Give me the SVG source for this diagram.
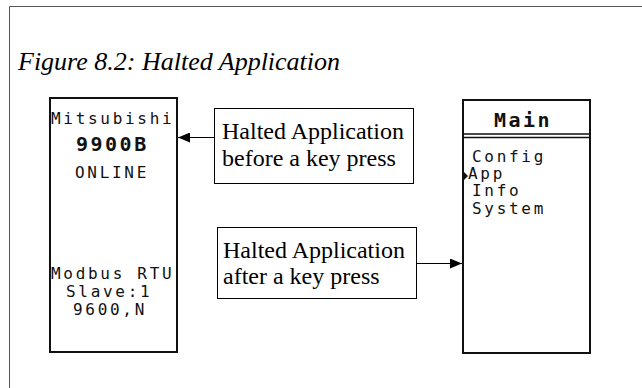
<svg xmlns="http://www.w3.org/2000/svg" width="642" height="388" viewBox="0 0 642 388">
  <defs>
    <marker id="arr" viewBox="0 0 12 10" refX="12" refY="5" markerWidth="12" markerHeight="10" markerUnits="userSpaceOnUse" orient="auto">
      <path d="M0,0 L12,5 L0,10 Z" fill="#000"/>
    </marker>
    <style>
      .frame { fill: none; stroke: #555; stroke-width: 1; }
      .screen { fill: #fff; stroke: #111; stroke-width: 2; }
      .lbl { fill: #fff; stroke: #000; stroke-width: 1; }
      .ltxt { font-family: "Liberation Serif", "Times New Roman", serif; font-size: 24px; fill: #000; }
      .title { font-family: "Liberation Serif", "Times New Roman", serif; font-style: italic; font-size: 26px; fill: #000; }
      .lcd { font-family: "DejaVu Sans Mono", "Liberation Mono", monospace; font-size: 16px; letter-spacing: 2.7px; fill: #111; }
      .lcdb { font-family: "DejaVu Sans Mono", "Liberation Mono", monospace; font-size: 20px; font-weight: bold; letter-spacing: 2.5px; fill: #111; }
      .conn { stroke: #000; stroke-width: 1; fill: none; }
    </style>
  </defs>
  <rect width="642" height="388" fill="#fff"/>
  <path class="frame" d="M9.5,388 L9.5,6.5 L642,6.5"/>
  <text class="title" x="18" y="70">Figure 8.2: Halted Application</text>

  <g id="screen-halted">
    <rect class="screen" x="50" y="98" width="127" height="254"/>
    <text class="lcd" x="51" y="124">Mitsubishi</text>
    <text class="lcdb" x="76" y="151">9900B</text>
    <text class="lcd" x="75" y="178">ONLINE</text>
    <text class="lcd" x="51" y="279">Modbus RTU</text>
    <text class="lcd" x="66" y="297">Slave:1</text>
    <text class="lcd" x="73" y="315">9600,N</text>
  </g>

  <g id="screen-main">
    <rect class="screen" x="463" y="100" width="127" height="253"/>
    <text class="lcdb" x="494" y="127">Main</text>
    <line x1="463" y1="134" x2="590" y2="134" stroke="#111" stroke-width="1.5"/>
    <line x1="463" y1="137.5" x2="590" y2="137.5" stroke="#111" stroke-width="1.5"/>
    <text class="lcd" x="472" y="162">Config</text>
    <path d="M464,172 L468,176 L464,180 Z" fill="#111"/>
    <text class="lcd" x="468" y="179">App</text>
    <text class="lcd" x="472" y="196">Info</text>
    <text class="lcd" x="472" y="214">System</text>
  </g>

  <g id="label-before">
    <rect class="lbl" x="214.5" y="108.5" width="199" height="75"/>
    <text class="ltxt" x="222" y="139">Halted Application</text>
    <text class="ltxt" x="222" y="166">before a key press</text>
  </g>

  <g id="label-after">
    <rect class="lbl" x="217.5" y="227.5" width="199" height="71"/>
    <text class="ltxt" x="223" y="258">Halted Application</text>
    <text class="ltxt" x="223" y="284">after a key press</text>
  </g>

  <g id="connectors">
    <line class="conn" x1="214" y1="137.5" x2="178" y2="137.5" marker-end="url(#arr)"/>
    <line class="conn" x1="417" y1="263.5" x2="462" y2="263.5" marker-end="url(#arr)"/>
  </g>
</svg>
